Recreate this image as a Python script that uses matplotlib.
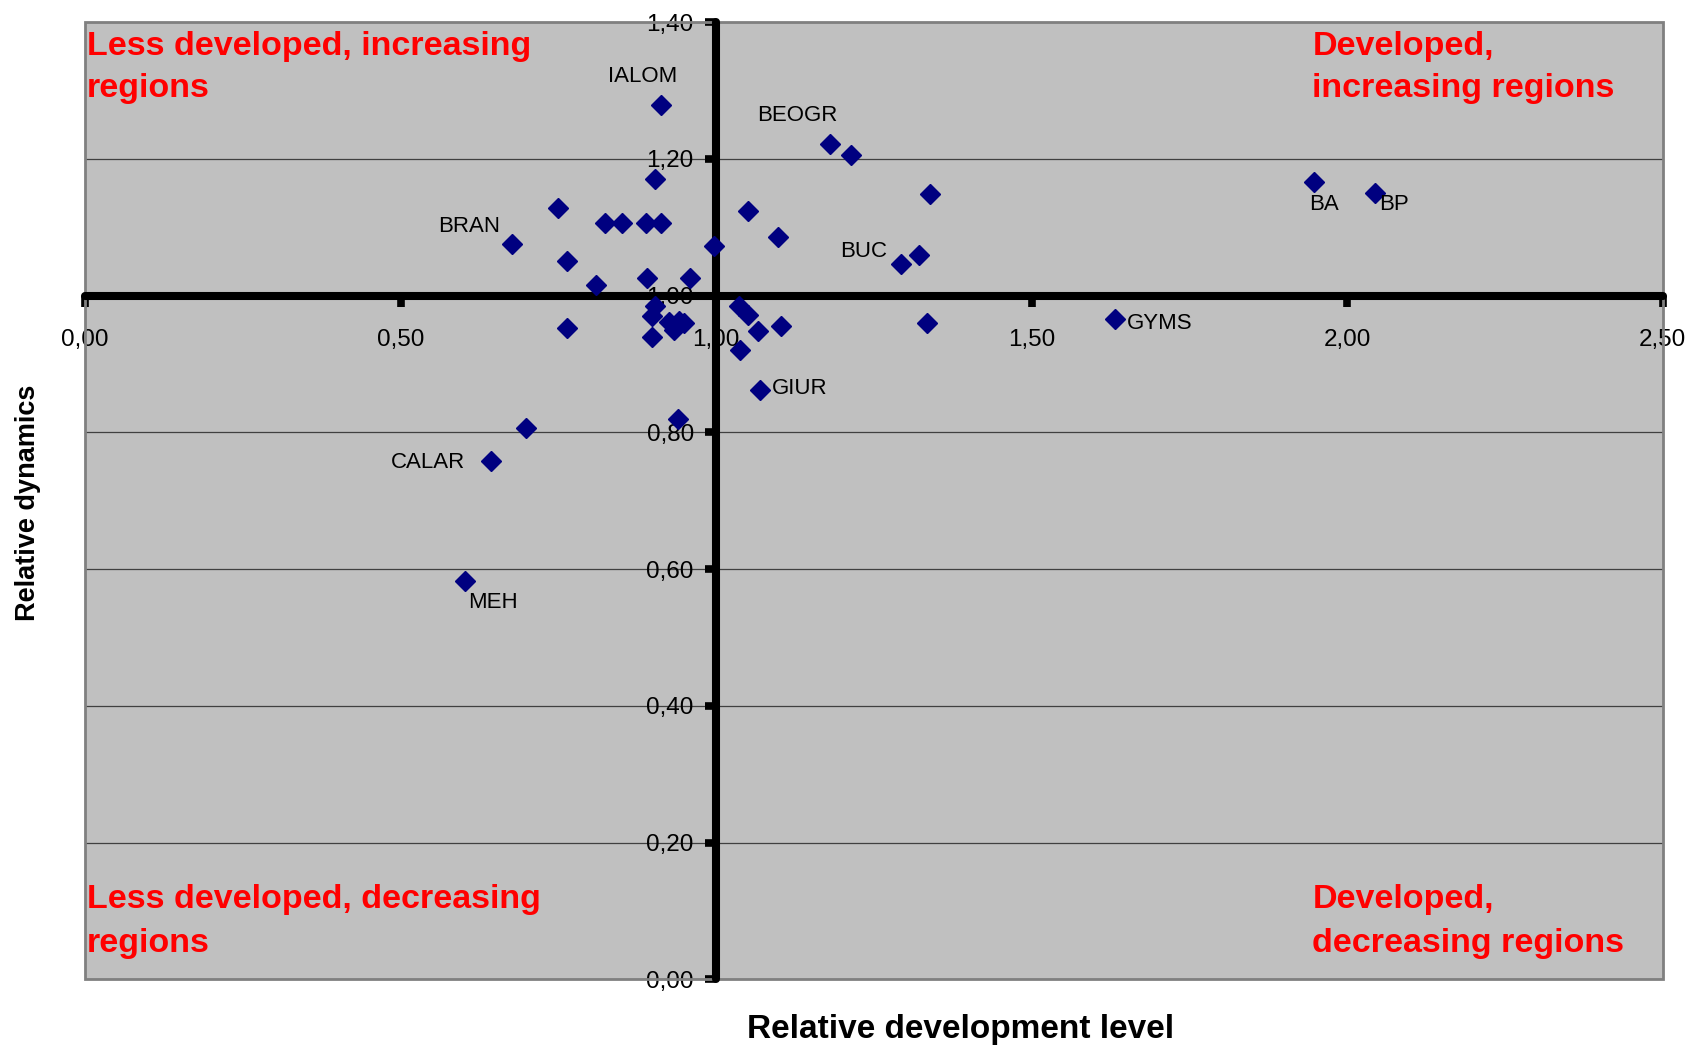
import matplotlib.pyplot as plt
from matplotlib.patches import Rectangle

plt.rcParams['font.family'] = ['Liberation Sans', 'DejaVu Sans']

# relative development level (x) and relative dynamics (y) per region
dev_level = [0.912, 0.903, 0.750, 0.824, 0.851, 0.889, 0.912, 0.676, 1.051, 1.098,
             0.996, 0.764, 0.810, 0.890, 0.958, 0.903, 0.898, 0.898, 0.764, 0.926,
             0.941, 0.949, 0.933, 1.037, 1.050, 1.066, 1.103, 1.038, 1.181, 1.214,
             1.339, 1.293, 1.321, 1.334, 1.632, 1.070, 0.699, 0.643, 0.602, 0.940,
             1.947, 2.045]
dynamics = [1.278, 1.171, 1.128, 1.106, 1.106, 1.106, 1.106, 1.076, 1.123, 1.085,
            1.072, 1.051, 1.016, 1.025, 1.025, 0.984, 0.970, 0.940, 0.952, 0.961,
            0.962, 0.960, 0.950, 0.984, 0.972, 0.948, 0.956, 0.921, 1.222, 1.205,
            1.149, 1.046, 1.059, 0.960, 0.965, 0.862, 0.806, 0.758, 0.582, 0.819,
            1.166, 1.150]
region = ['IALOM', '', '', '', '', '', '', 'BRAN', '', '',
          '', '', '', '', '', '', '', '', '', '',
          '', '', '', '', '', '', '', '', 'BEOGR', '',
          '', 'BUC', '', '', 'GYMS', 'GIUR', '', 'CALAR', 'MEH', '',
          'BA', 'BP']

x_ticks = [0.0, 0.5, 1.0, 1.5, 2.0, 2.5]
y_ticks = [0.0, 0.2, 0.4, 0.6, 0.8, 1.0, 1.2, 1.4]

# label offsets in points, horizontal alignment
label_pos = {
    'IALOM': (-13, 21, 'center'),
    'BRAN': (-8, 12, 'right'),
    'BEOGR': (-52.6, 20.4, 'left'),
    'BUC': (-9.6, 8.7, 'right'),
    'GYMS': (8.6, -2.9, 'left'),
    'GIUR': (8.6, 0.7, 'left'),
    'CALAR': (-18.2, -1.3, 'right'),
    'MEH': (2.4, -15.5, 'left'),
    'BA': (-3.6, -16.3, 'left'),
    'BP': (2.4, -8.1, 'left'),
}

fig = plt.figure(figsize=(17, 10.48), dpi=100)
ax = fig.add_axes([0.05, 0.0656, 0.928, 0.9134])
ax.set_facecolor('#C0C0C0')
ax.set_xlim(0, 2.5)
ax.set_ylim(0, 1.4)

for s in ['top', 'right']:
    ax.spines[s].set_visible(False)
ax.spines['left'].set_position(('data', 1.0))
ax.spines['bottom'].set_position(('data', 1.0))
for s in ['left', 'bottom']:
    ax.spines[s].set_linewidth(5.8)
    ax.spines[s].set_capstyle('round')

# ticks after moving the spines (set_position resets them)
ax.set_xticks(x_ticks)
ax.set_yticks(y_ticks)
ax.set_xticklabels([f'{t:.2f}'.replace('.', ',') for t in x_ticks])
ax.set_yticklabels([f'{t:.2f}'.replace('.', ',') for t in y_ticks])
ax.tick_params(axis='x', direction='out', length=8, width=5.5, pad=16, labelsize=17.5)
ax.tick_params(axis='y', direction='out', length=8, width=5.5, pad=8, labelsize=17.5)
ax.yaxis.grid(True, color='#404040', lw=0.9)
ax.set_axisbelow(True)

ax.add_patch(Rectangle((0, 0), 1, 1, transform=ax.transAxes, fill=False,
                       edgecolor='#808080', lw=2, clip_on=False, zorder=1))

ax.plot(dev_level, dynamics, 'D', color='#000080', ms=10, mec='#000080', zorder=4)

for x, y, name in zip(dev_level, dynamics, region):
    if name:
        dx, dy, ha = label_pos[name]
        ax.annotate(name, (x, y), xytext=(dx, dy), textcoords='offset points',
                    ha=ha, va='center', fontsize=16, zorder=5)

red = dict(color='#FF0000', fontsize=24.5, fontweight='bold', va='baseline', ha='left')
ax.text(0.0035, 1.352, 'Less developed, increasing', **red)
ax.text(0.0035, 1.290, 'regions', **red)
ax.text(1.945, 1.352, 'Developed,', **red)
ax.text(1.945, 1.290, 'increasing regions', **red)
ax.text(0.0035, 0.104, 'Less developed, decreasing', **red)
ax.text(0.0035, 0.040, 'regions', **red)
ax.text(1.945, 0.104, 'Developed,', **red)
ax.text(1.945, 0.040, 'decreasing regions', **red)

fig.text(0.565, 0.018, 'Relative development level', ha='center', va='center',
         fontsize=24, fontweight='bold')
fig.text(0.0162, 0.5205, 'Relative dynamics', ha='center', va='center',
         rotation=90, fontsize=19.5, fontweight='bold')

fig.savefig('out.png')
